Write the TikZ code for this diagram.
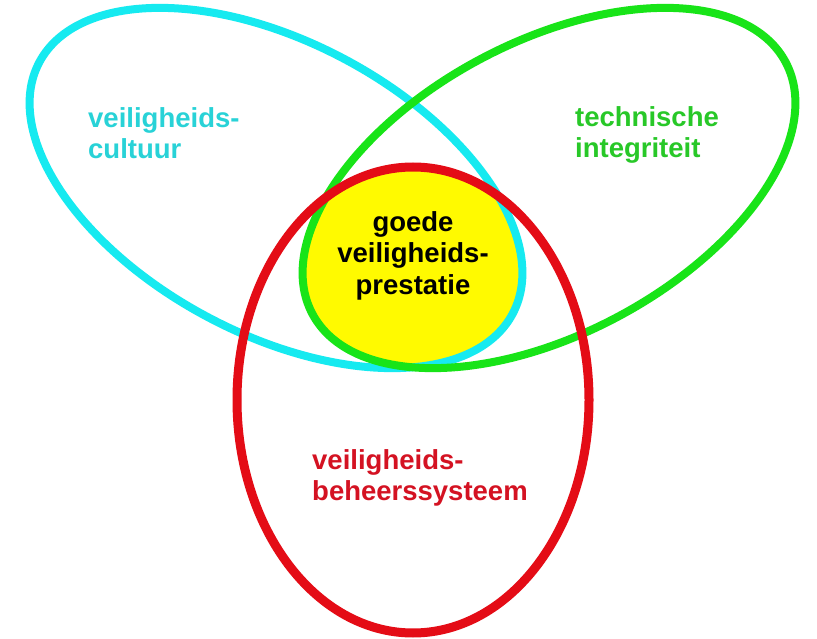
\documentclass[tikz,border=0pt]{standalone}
\usepackage{fontspec}
\setmainfont{Liberation Sans}
\definecolor{cyanline}{RGB}{22,234,240}
\definecolor{greenline}{RGB}{24,228,24}
\definecolor{redline}{RGB}{228,12,22}
\definecolor{yellowfill}{RGB}{255,250,0}
\definecolor{cyantext}{RGB}{40,210,215}
\definecolor{greentext}{RGB}{40,200,40}
\definecolor{redtext}{RGB}{212,18,34}
\tikzset{
  ring/.style={line width=8pt},
  lbl/.style={inner sep=0pt, font=\fontsize{27.5}{31.5}\selectfont\bfseries},
}
\begin{document}
\begin{tikzpicture}[x=1pt,y=-1pt]
\useasboundingbox (0,0) rectangle (817,639);
\fill[white] (0,0) rectangle (817,639);
% yellow triple intersection
\begin{scope}
  \clip[rotate around={-28:(276,188)}] (276,188) ellipse [x radius=268, y radius=146];
  \clip[rotate around={28:(549,188)}] (549,188) ellipse [x radius=268, y radius=146];
  \fill[yellowfill] (413,400) ellipse [x radius=176, y radius=233];
\end{scope}
% rings
\draw[ring, cyanline, rotate around={-28:(276,188)}] (276,188) ellipse [x radius=268, y radius=146];
\draw[ring, greenline, rotate around={28:(549,188)}] (549,188) ellipse [x radius=268, y radius=146];
\draw[ring, redline, line width=9pt] (413,400) ellipse [x radius=176, y radius=233];
% labels
\node[lbl, cyantext, align=left, anchor=north west] (cult) at (88,107) {veiligheids-\\cultuur};
\node[lbl, greentext, align=left, anchor=north west] (tech) at (575,106) {technische\\integriteit};
\node[lbl, black, align=center, anchor=north] (goed) at (413,211) {goede\\veiligheids-\\prestatie};
\node[lbl, redtext, align=left, anchor=north west] (behe) at (312,449) {veiligheids-\\beheerssysteem};
\end{tikzpicture}
\end{document}
